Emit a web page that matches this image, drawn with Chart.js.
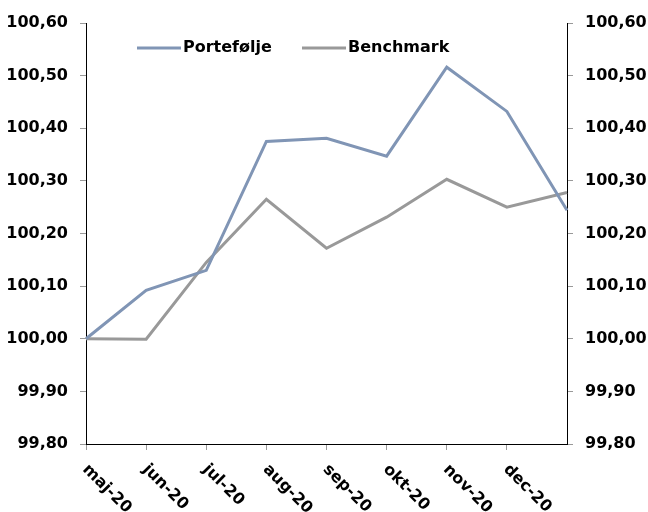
<!DOCTYPE html>
<html>
<head>
<meta charset="utf-8">
<script src="https://cdn.jsdelivr.net/npm/chart.js@4"></script>
<style>
  html, body { margin: 0; padding: 0; background: #fff; }
  #wrap { width: 648px; height: 512px; }
</style>
</head>
<body>
<div id="wrap"><canvas id="myChart" width="648" height="512"></canvas></div>
<script>
// Months (the last point has no label under the axis)
const months = ['maj-20', 'jun-20', 'jul-20', 'aug-20', 'sep-20', 'okt-20', 'nov-20', 'dec-20', 'jan-21'];
const shownMonths = ['maj-20', 'jun-20', 'jul-20', 'aug-20', 'sep-20', 'okt-20', 'nov-20', 'dec-20'];

const portfolio = [100.00, 100.092, 100.130, 100.375, 100.381, 100.347, 100.516, 100.432, 100.244];
const benchmark = [100.00, 99.999, 100.145, 100.265, 100.172, 100.231, 100.303, 100.250, 100.278];

const yMin = 99.8;
const yMax = 100.6;
const yStep = 0.1;

const FONT = 'DejaVu Sans';
const BLUE = '#8095b5';
const GREY = '#999999';

function fmt(v) {
    return v.toFixed(2).replace('.', ',');
}

// Legend drawn inside the plot area
const innerLegend = {
    id: 'innerLegend',
    afterDraw(chart) {
        const ctx = chart.ctx;
        const items = [
            { x: 137, ds: chart.data.datasets[0] },
            { x: 302, ds: chart.data.datasets[1] }
        ];
        ctx.save();
        ctx.font = 'bold 16px "' + FONT + '"';
        ctx.textBaseline = 'middle';
        ctx.fillStyle = '#000';
        items.forEach(function(it) {
            ctx.strokeStyle = it.ds.borderColor;
            ctx.lineWidth = 3;
            ctx.beginPath();
            ctx.moveTo(it.x, 48);
            ctx.lineTo(it.x + 44, 48);
            ctx.stroke();
            ctx.fillText(it.ds.label, it.x + 46, 48);
        });
        ctx.restore();
    }
};

// Month labels slanting down to the right from each tick
const slantedLabels = {
    id: 'slantedLabels',
    afterDraw(chart) {
        const ctx = chart.ctx;
        const xs = chart.scales.x;
        const bottom = chart.chartArea.bottom;
        ctx.save();
        ctx.font = 'bold 16px "' + FONT + '"';
        ctx.fillStyle = '#000';
        ctx.textAlign = 'left';
        ctx.textBaseline = 'middle';
        shownMonths.forEach(function(lbl, i) {
            const px = xs.getPixelForValue(i);
            ctx.save();
            ctx.translate(px - 1, bottom + 23);
            ctx.rotate(Math.PI / 4);
            ctx.fillText(lbl, 0, 0);
            ctx.restore();
        });
        ctx.restore();
    }
};

const tickFont = { family: FONT, size: 16, weight: 'bold' };

const myChart = new Chart(document.getElementById('myChart'), {
    type: 'line',
    data: {
        labels: months,
        datasets: [{
            label: 'Portefølje',
            data: portfolio,
            borderColor: BLUE,
            backgroundColor: BLUE,
            borderWidth: 3,
            pointRadius: 0,
            tension: 0,
            yAxisID: 'y'
        }, {
            label: 'Benchmark',
            data: benchmark,
            borderColor: GREY,
            backgroundColor: GREY,
            borderWidth: 3,
            pointRadius: 0,
            tension: 0,
            yAxisID: 'y'
        }]
    },
    options: {
        responsive: false,
        animation: false,
        layout: { padding: { top: 23, left: 0, right: 0, bottom: 0 } },
        scales: {
            x: {
                offset: false,
                afterFit(scale) { scale.height = 68; },
                grid: {
                    display: true,
                    drawOnChartArea: false,
                    drawTicks: true,
                    tickLength: 6,
                    color: function(c) {
                        return c.index === months.length - 1 ? 'rgba(0,0,0,0)' : '#999';
                    }
                },
                border: { display: true, color: '#000', width: 1 },
                ticks: { display: false }
            },
            y: {
                position: 'left',
                min: yMin,
                max: yMax,
                afterFit(scale) { scale.width = 86; },
                grid: {
                    drawOnChartArea: false,
                    drawTicks: true,
                    tickLength: 6,
                    color: '#999'
                },
                border: { display: true, color: '#000', width: 1 },
                ticks: {
                    stepSize: yStep,
                    padding: 12,
                    color: '#000',
                    font: tickFont,
                    callback: function(v) { return fmt(v); }
                }
            },
            y2: {
                position: 'right',
                min: yMin,
                max: yMax,
                afterFit(scale) { scale.width = 81; },
                grid: {
                    drawOnChartArea: false,
                    drawTicks: true,
                    tickLength: 6,
                    color: '#999'
                },
                border: { display: true, color: '#000', width: 1 },
                ticks: {
                    stepSize: yStep,
                    padding: 12,
                    color: '#000',
                    font: tickFont,
                    callback: function(v) { return fmt(v); }
                }
            }
        },
        plugins: {
            legend: { display: false },
            tooltip: { enabled: false }
        }
    },
    plugins: [innerLegend, slantedLabels]
});
</script>
</body>
</html>
